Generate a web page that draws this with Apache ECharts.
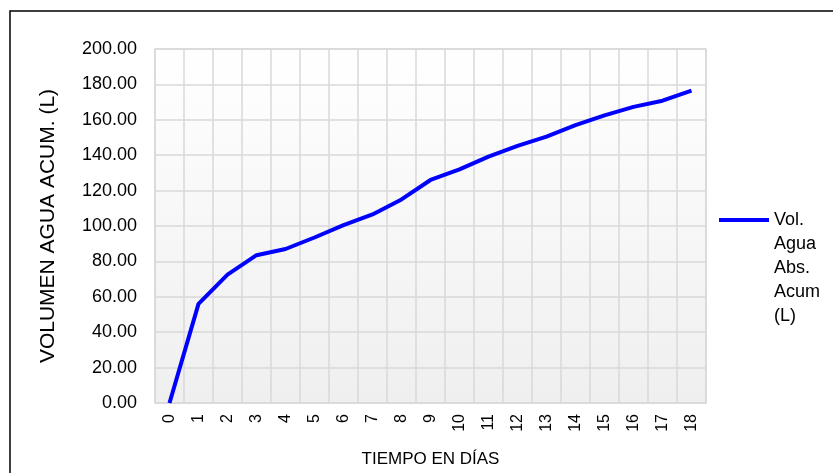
<!DOCTYPE html>
<html>
<head>
<meta charset="utf-8">
<title>Vol. Agua Abs. Acum</title>
<script src="https://cdn.jsdelivr.net/npm/echarts@6/dist/echarts.min.js"></script>
<style>
  html, body { margin: 0; padding: 0; background: #fff; }
  #chart { width: 833px; height: 473px; }
</style>
</head>
<body>
<div id="chart"></div>
<script>
// dias (categorias del eje x)
const dias = ['0', '1', '2', '3', '4', '5', '6', '7', '8', '9', '10', '11', '12', '13', '14', '15', '16', '17', '18'];
// volumen de agua absorbida acumulada (L)
const volAcum = [0, 56, 72.5, 83.5, 87, 93.5, 100.5, 106.5, 115, 126, 132, 139.2, 145.3, 150.5, 157, 162.5, 167.3, 170.8, 176.5];
const nombreSerie = 'Vol. Agua Abs. Acum (L)';

const chart = echarts.init(document.getElementById('chart'));
const fuente = '"Liberation Sans", Arial, sans-serif';
const textoLeyenda = { fontSize: 18, color: '#000', lineHeight: 24, fontFamily: fuente };

const option = {
  animation: false,
  textStyle: { fontFamily: fuente },
  graphic: [{
    type: 'rect',
    shape: { x: 10, y: 11, width: 840, height: 480 },
    style: { fill: 'none', stroke: '#000', lineWidth: 1.5 },
    silent: true
  }],
  grid: {
    left: 155, right: 127, top: 49, bottom: 66,
    show: true,
    borderColor: '#d9d9d9',
    borderWidth: 1.5,
    backgroundColor: new echarts.graphic.LinearGradient(0, 0, 0, 1, [
      { offset: 0, color: '#ffffff' },
      { offset: 1, color: '#efefef' }
    ])
  },
  // la leyenda se parte en dos: la linea con "Vol." y el resto del texto debajo
  legend: [{
    left: 719, top: 208,
    padding: 0,
    itemWidth: 50, itemHeight: 4,
    icon: 'rect',
    textStyle: textoLeyenda,
    formatter: () => 'Vol.',
    data: [nombreSerie]
  }, {
    left: 769, top: 232,
    padding: 0,
    itemWidth: 0, itemHeight: 0,
    icon: 'rect',
    textStyle: textoLeyenda,
    formatter: () => 'Agua\nAbs.\nAcum\n(L)',
    data: [nombreSerie]
  }],
  xAxis: {
    type: 'category',
    data: dias,
    boundaryGap: true,
    name: 'TIEMPO EN DÍAS',
    nameLocation: 'middle',
    nameGap: 48,
    nameTextStyle: { fontSize: 17, color: '#000' },
    axisLine: { show: false },
    axisTick: { show: false },
    axisLabel: { rotate: 90, fontSize: 16, color: '#000', margin: 11, interval: 0 },
    splitLine: { show: true, interval: 0, lineStyle: { color: '#d9d9d9', width: 1.5 } }
  },
  yAxis: {
    type: 'value',
    min: 0, max: 200, interval: 20,
    name: 'VOLUMEN AGUA ACUM. (L)',
    nameLocation: 'middle',
    nameGap: 96,
    nameTextStyle: { fontSize: 21, color: '#000' },
    axisLine: { show: false },
    axisTick: { show: false },
    axisLabel: {
      fontSize: 18, color: '#000', margin: 18,
      formatter: v => v.toFixed(2)
    },
    splitLine: { show: true, lineStyle: { color: '#d9d9d9', width: 1.5 } }
  },
  series: [{
    name: nombreSerie,
    type: 'line',
    data: volAcum,
    symbol: 'none',
    lineStyle: { color: '#0000ff', width: 4 },
    itemStyle: { color: '#0000ff' }
  }]
};

chart.setOption(option);
</script>
</body>
</html>
